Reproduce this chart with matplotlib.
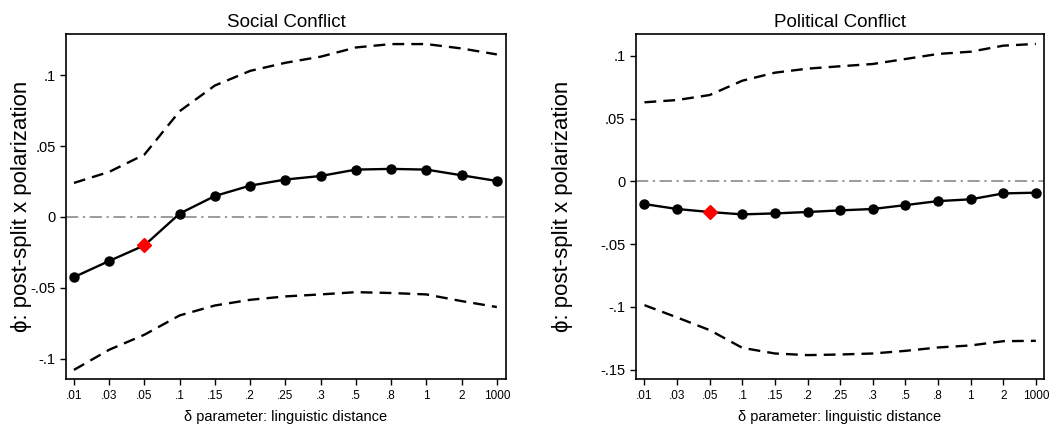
import matplotlib.pyplot as plt
import numpy as np

plt.rcParams['font.family'] = ['Liberation Sans', 'DejaVu Sans']

x_labels = ['.01', '.03', '.05', '.1', '.15', '.2', '.25', '.3', '.5', '.8', '1', '2', '1000']

# social conflict
soc_est = [-0.0424, -0.031, -0.020, 0.0024, 0.0148, 0.0221, 0.0264, 0.0289, 0.0334, 0.0339, 0.0334, 0.0294, 0.0254]
soc_hi = [0.024, 0.0318, 0.044, 0.0746, 0.0927, 0.103, 0.1087, 0.113, 0.1195, 0.1219, 0.1219, 0.1188, 0.1146]
soc_lo = [-0.1078, -0.0936, -0.083, -0.0694, -0.0624, -0.0584, -0.056, -0.0546, -0.053, -0.0536, -0.0546, -0.0593, -0.0635]

# political conflict
pol_est = [-0.0181, -0.022, -0.0244, -0.0263, -0.0255, -0.0244, -0.0231, -0.022, -0.0189, -0.0157, -0.0143, -0.0096, -0.009]
pol_hi = [0.063, 0.0648, 0.0688, 0.0802, 0.0866, 0.0898, 0.0917, 0.0935, 0.0975, 0.1015, 0.1033, 0.1081, 0.1095]
pol_lo = [-0.0986, -0.1084, -0.1185, -0.1326, -0.1371, -0.1384, -0.1379, -0.1371, -0.135, -0.1323, -0.1307, -0.1273, -0.127]

highlight = 2  # delta = .05

fig = plt.figure(figsize=(10.57, 4.25), dpi=100)
ax1 = fig.add_axes([0.0624, 0.108, 0.4163, 0.812])
ax2 = fig.add_axes([0.6014, 0.108, 0.386, 0.812])

panels = [
    (ax1, 'Social Conflict', soc_est, soc_hi, soc_lo, [-0.1, -0.05, 0, 0.05, 0.1], ['-.1', '-.05', '0', '.05', '.1'], (-0.1143, 0.129), (-0.227, 12.26)),
    (ax2, 'Political Conflict', pol_est, pol_hi, pol_lo, [-0.15, -0.1, -0.05, 0, 0.05, 0.1], ['-.15', '-.1', '-.05', '0', '.05', '.1'], (-0.1575, 0.1174), (-0.27, 12.24)),
]

xs = np.arange(len(x_labels))
for ax, title, est, hi, lo, yt, ytl, ylim, xlim in panels:
    ax.axhline(0, color='#808080', lw=1.1, dashes=(8, 3, 1.5, 3))
    ax.plot(xs, hi, color='black', lw=1.7, dashes=(5, 3))
    ax.plot(xs, lo, color='black', lw=1.7, dashes=(5, 3))
    ax.plot(xs, est, color='black', lw=1.7, marker='o', markersize=6.5)
    ax.plot(xs[highlight], est[highlight], marker='D', color='red', markersize=7.5, ls='none', zorder=5)
    ax.set_xlim(*xlim)
    ax.set_ylim(*ylim)
    ax.set_xticks(xs)
    ax.set_xticklabels(x_labels, fontsize=8.5)
    ax.set_yticks(yt)
    ax.set_yticklabels(ytl, fontsize=10.5)
    ax.tick_params(direction='out', length=4, width=1)
    ax.set_title(title, fontsize=13.5, pad=5)
    ax.set_xlabel('δ parameter: linguistic distance', fontsize=10.5, labelpad=6)
    for s in ax.spines.values():
        s.set_linewidth(1.2)

ax1.set_ylabel('ϕ: post-split x polarization', fontsize=16, labelpad=-1.5)
ax2.set_ylabel('ϕ: post-split x polarization', fontsize=16, labelpad=19.5)

plt.savefig('out.png')
